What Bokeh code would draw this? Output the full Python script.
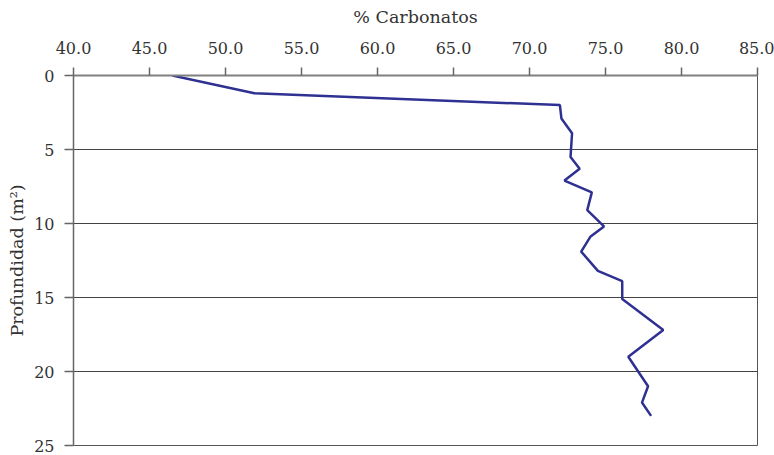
from bokeh.plotting import figure
from bokeh.models import Range1d, FixedTicker, NumeralTickFormatter
from bokeh.embed import file_html
from bokeh.resources import INLINE

# Data
carbonatos = [46.5, 51.9, 72.0, 72.1, 72.8, 72.7, 73.3, 72.3, 74.1, 73.8, 74.9,
              74.0, 73.4, 74.5, 76.1, 76.1, 78.8, 76.5, 77.8, 77.4, 78.0]
profundidad = [0.0, 1.2, 2.0, 2.9, 3.9, 5.5, 6.3, 7.1, 7.9, 9.1, 10.2,
               10.9, 11.9, 13.2, 13.9, 15.1, 17.2, 19.0, 21.0, 22.1, 23.0]
x_ticks = [40, 45, 50, 55, 60, 65, 70, 75, 80, 85]
y_ticks = [0, 5, 10, 15, 20, 25]

FONT = "DejaVu Serif"
TXT = "#333333"

p = figure(width=774, height=455,
           x_range=Range1d(40, 85), y_range=Range1d(25, 0),
           x_axis_location="above",
           output_backend="svg", toolbar_location=None,
           min_border_left=73, min_border_right=17,
           min_border_top=75, min_border_bottom=10)

p.background_fill_color = "white"
p.border_fill_color = "white"
p.outline_line_color = "#555555"
p.outline_line_width = 1

# x axis (top)
xa = p.xaxis[0]
xa.ticker = FixedTicker(ticks=x_ticks)
xa.formatter = NumeralTickFormatter(format="0.0")
xa.axis_label = "% Carbonatos"
xa.axis_label_text_font = FONT
xa.axis_label_text_font_style = "normal"
xa.axis_label_text_font_size = "17.5px"
xa.axis_label_text_color = TXT
xa.axis_label_standoff = 12
xa.major_label_text_font = FONT
xa.major_label_text_font_size = "16px"
xa.major_label_text_color = TXT
xa.major_label_standoff = 14
xa.axis_line_color = "#808080"
xa.axis_line_width = 2
xa.major_tick_line_color = "#666666"
xa.major_tick_line_width = 1.5
xa.major_tick_out = 8
xa.major_tick_in = 0
xa.minor_tick_line_color = None

# y axis (left)
ya = p.yaxis[0]
ya.ticker = FixedTicker(ticks=y_ticks)
ya.axis_label = "Profundidad (m²)"
ya.axis_label_text_font = FONT
ya.axis_label_text_font_style = "normal"
ya.axis_label_text_font_size = "17.5px"
ya.axis_label_text_color = TXT
ya.axis_label_standoff = 4
ya.major_label_text_font = FONT
ya.major_label_text_font_size = "16px"
ya.major_label_text_color = TXT
ya.major_label_standoff = 10
ya.axis_line_color = "#666666"
ya.axis_line_width = 1.5
ya.major_tick_line_color = "#666666"
ya.major_tick_line_width = 1.5
ya.major_tick_out = 9
ya.major_tick_in = 0
ya.minor_tick_line_color = None

p.xgrid.grid_line_color = None
p.ygrid.ticker = FixedTicker(ticks=y_ticks)
p.ygrid.grid_line_color = "#444444"
p.ygrid.grid_line_width = 1

p.line(carbonatos, profundidad, line_color="#2e3192", line_width=2.5)

open("out.html", "w").write(file_html(p, INLINE))
